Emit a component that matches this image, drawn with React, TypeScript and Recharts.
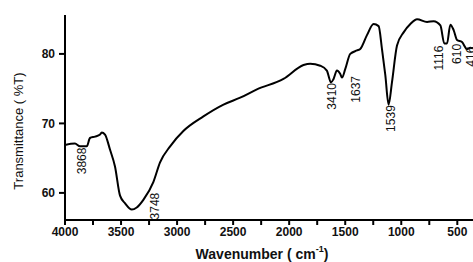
import { ComposedChart, Line, Scatter, XAxis, YAxis } from "recharts";

// FTIR spectrum (wavenumber cm-1, transmittance %T)
const wavenumbers = [
  4000, 3911, 3866, 3806, 3777, 3732, 3687, 3672, 3643, 3598, 3554, 3509, 3464, 3404, 3360, 3301, 3211, 3152,
  3062, 2944, 2765, 2586, 2437, 2288, 2051, 1872, 1812, 1723, 1664, 1627, 1604, 1574, 1544, 1529, 1500, 1455,
  1395, 1366, 1306, 1247, 1202, 1172, 1142, 1113, 1083, 1038, 979, 919, 859, 770, 711, 651, 616, 592, 562, 532,
  502, 458, 413, 384, 360,
];
const transmittance = [
  66.9, 67.1, 66.7, 66.7, 67.9, 68.1, 68.4, 68.7, 68.4, 66.2, 63.8, 59.6, 58.5, 57.6, 57.9, 59.0, 61.6, 64.4,
  66.7, 68.9, 71.0, 72.7, 73.7, 74.9, 76.4, 78.4, 78.6, 78.3, 77.6, 75.9, 76.4, 77.6, 77.1, 76.6, 77.8, 80.0,
  80.5, 80.7, 82.7, 84.3, 84.0, 80.7, 76.9, 72.7, 75.9, 81.2, 83.1, 84.3, 85.0, 84.6, 84.7, 84.1, 81.5, 81.5,
  84.2, 83.4, 82.0, 81.7, 80.7, 80.9, 80.8,
];

// peak annotations: text and where its centre sits (data coords)
const peakLabels = ["3868", "3748", "3410", "1637", "1539", "1116", "610", "416"];
const peakX = [3848, 3196, 1616, 1401, 1089, 660, 499, 374];
const peakY = [64.6, 58.1, 73.9, 74.9, 70.7, 79.4, 80.0, 79.6];

const xTicks = [4000, 3750, 3500, 3250, 3000, 2750, 2500, 2250, 2000, 1750, 1500, 1250, 1000, 750, 500];
const yTicks = [60, 70, 80];

const spectrum = wavenumbers.map((w, i) => ({ w, t: transmittance[i] }));
const peaks = peakLabels.map((label, i) => ({ w: peakX[i], t: peakY[i], label }));

const tickStyle = { fontFamily: "Liberation Sans, Arial, sans-serif", fontSize: 12, fontWeight: 700, fill: "#111" };

function PeakText(props: any) {
  const { cx, cy, payload } = props;
  return (
    <text
      transform={`translate(${cx},${cy}) rotate(-90)`}
      textAnchor="middle"
      dominantBaseline="central"
      fontFamily="Liberation Sans Narrow, Liberation Sans, Arial, sans-serif"
      fontSize={12}
      fill="#111"
    >
      {payload.label}
    </text>
  );
}

export default function App() {
  return (
    <div style={{ position: "absolute", left: 0, top: 0, width: 473, height: 262, background: "#fff" }}>
      <ComposedChart width={473} height={262} margin={{ top: 15, right: 0, bottom: 12, left: 0 }}>
        <XAxis
          dataKey="w"
          type="number"
          domain={[360, 4000]}
          reversed
          ticks={xTicks}
          interval={0}
          tickFormatter={(v) => (v % 500 === 0 ? String(v) : "")}
          tick={tickStyle}
          tickSize={5}
          height={30}
          stroke="#000"
          strokeWidth={2}
          allowDataOverflow
          label={{
            content: () => (
              <text x={262} y={254} textAnchor="middle" dominantBaseline="central" fontFamily="Liberation Sans, Arial, sans-serif" fontSize={14} fontWeight={700} fill="#111">
                Wavenumber ( cm
                <tspan baselineShift="super" fontSize={9}>-1</tspan>
                <tspan baselineShift="0">)</tspan>
              </text>
            ),
          }}
        />
        <YAxis
          type="number"
          domain={[56.1, 85.6]}
          ticks={yTicks}
          tick={tickStyle}
          tickSize={6}
          tickMargin={4}
          width={65}
          stroke="#000"
          strokeWidth={2}
          allowDataOverflow
          label={{
            content: () => (
              <text
                transform="translate(18,131) rotate(-90)"
                textAnchor="middle"
                dominantBaseline="central"
                fontFamily="Liberation Sans Narrow, Liberation Sans, Arial, sans-serif"
                fontSize={13}
                fill="#111"
              >
                Transmittance ( %T)
              </text>
            ),
          }}
        />
        <Line
          data={spectrum}
          dataKey="t"
          type="monotone"
          stroke="#000"
          strokeWidth={2}
          dot={false}
          isAnimationActive={false}
        />
        <Scatter data={peaks} dataKey="t" shape={<PeakText />} isAnimationActive={false} />
      </ComposedChart>
    </div>
  );
}
